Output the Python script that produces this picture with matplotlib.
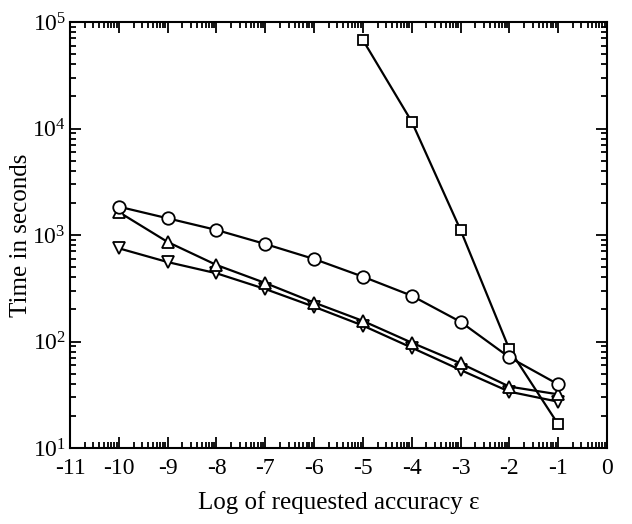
import numpy as np
import matplotlib
matplotlib.use("Agg")
import matplotlib.pyplot as plt
from matplotlib.ticker import FixedLocator, LogLocator, NullFormatter

plt.rcParams['font.family'] = ['Liberation Serif', 'DejaVu Serif']
plt.rcParams['mathtext.fontset'] = 'custom'
plt.rcParams['mathtext.rm'] = 'Liberation Serif'
plt.rcParams['mathtext.it'] = 'Liberation Serif:italic'
plt.rcParams['axes.unicode_minus'] = False

# log of requested accuracy
eps = [-10, -9, -8, -7, -6, -5, -4, -3, -2, -1]
eps_sq = [-5, -4, -3, -2, -1]

# times in seconds
t_circle = [1845, 1435, 1115, 823, 595, 406, 269, 153, 71, 39.6]
t_up = [1643, 860, 523, 354, 232, 156, 97.5, 62.4, 37.7, 31.9]
t_down = [750, 557, 437, 311, 212, 141, 87.5, 54, 33.8, 27.2]
t_square = [67700, 11600, 1114, 84.5, 16.7]

fig = plt.figure(figsize=(6.32, 5.24), dpi=100)
ax = fig.add_axes([70 / 632, 1 - 448 / 524, 537 / 632, 426 / 524])

style = dict(color='black', lw=1.6, mfc='white', mec='black', mew=1.3)
ax.plot(eps_sq, t_square, marker='s', ms=7, **style)
ax.plot(eps, t_down, marker='v', ms=9, **style)
ax.plot(eps, t_up, marker='^', ms=9, **style)
ax.plot(eps, t_circle, marker='o', ms=9, **style)

ax.set_yscale('log')
ax.set_xlim(-11, 0)
ax.set_ylim(10, 1e5)

ax.xaxis.set_major_locator(FixedLocator(np.arange(-11, 1)))
minor = [b + np.log10(k) for b in range(-11, 0) for k in range(2, 10)]
ax.xaxis.set_minor_locator(FixedLocator(minor))
ax.yaxis.set_major_locator(LogLocator(base=10))
ax.yaxis.set_minor_locator(LogLocator(base=10, subs=np.arange(2, 10)))
ax.yaxis.set_minor_formatter(NullFormatter())

ax.tick_params(which='both', direction='in', top=True, right=True,
               width=1.3, labelsize=17)
ax.tick_params(which='major', length=8)
ax.tick_params(which='minor', length=4.5)
ax.tick_params(axis='x', pad=7)
ax.tick_params(axis='y', pad=3)
for s in ax.spines.values():
    s.set_linewidth(1.5)

ax.set_xlabel('Log of requested accuracy ε', fontsize=18, labelpad=9)
ax.set_ylabel('Time in seconds', fontsize=18)
ax.yaxis.set_label_coords(-0.07, 0.5)

fig.savefig('out.png', dpi=100)
